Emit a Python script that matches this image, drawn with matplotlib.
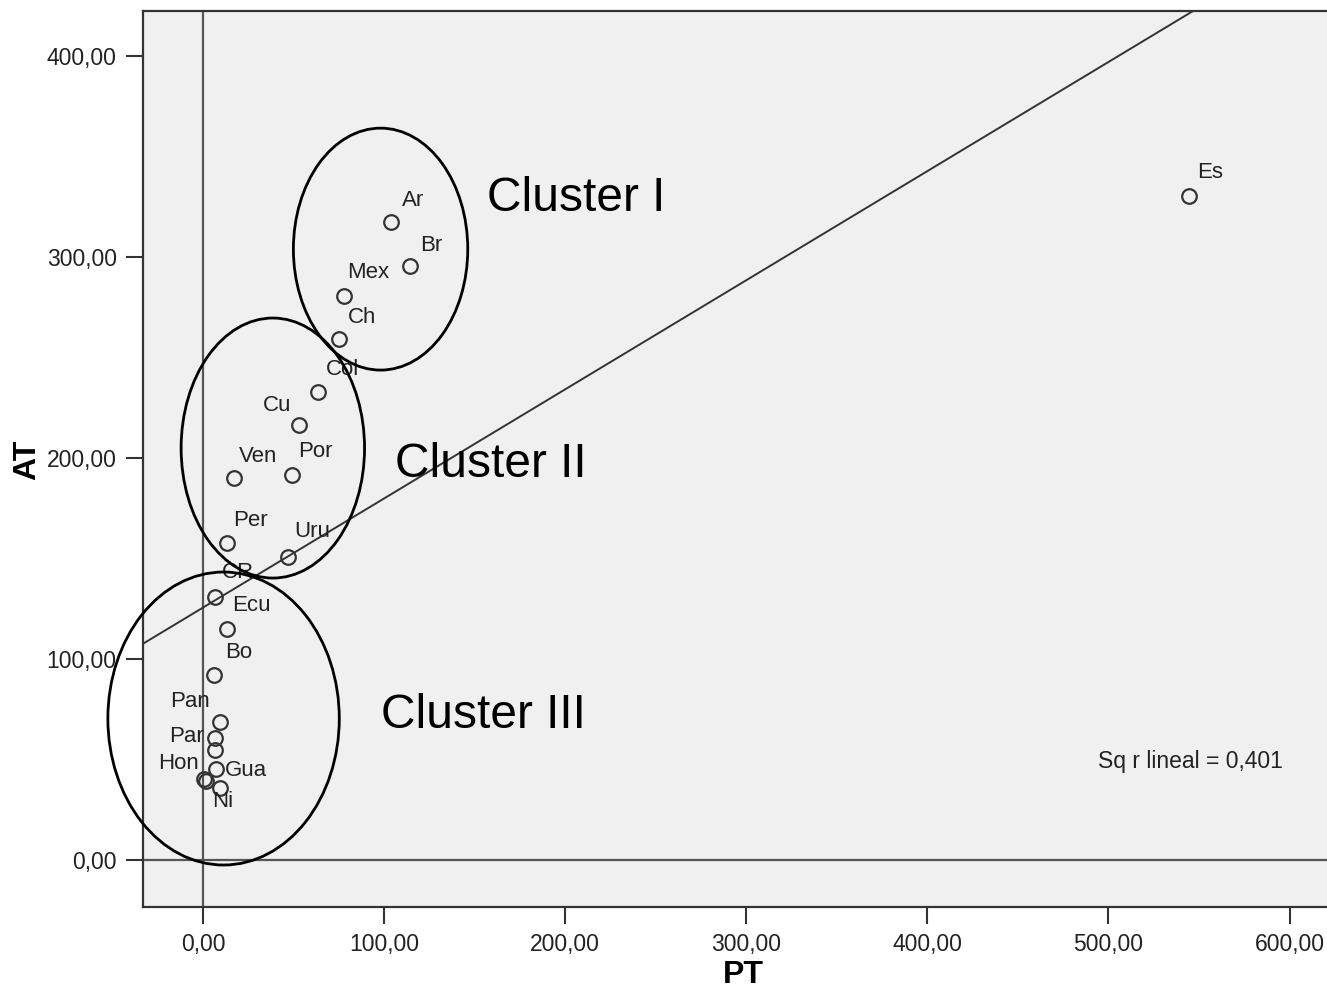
import numpy as np
import matplotlib
matplotlib.use("Agg")
import matplotlib.pyplot as plt
from matplotlib.patches import Ellipse

plt.rcParams['font.family'] = ['Liberation Sans', 'DejaVu Sans']

# ---- data ----
countries = ["Ar", "Br", "Mex", "Ch", "Col", "Cu", "Por", "Ven", "Per", "Uru",
             "CR", "Ecu", "Bo", "Pan", "Par", "", "Gua", "Hon", "", "Ni", "Es"]
pt = [104.0, 114.0, 78.0, 75.3, 63.6, 53.1, 49.3, 17.2, 13.3, 47.0,
      6.6, 13.3, 6.1, 9.4, 6.6, 6.6, 7.2, 1.7, 0.6, 9.4, 544.5]
at = [317.4, 295.5, 280.6, 259.2, 232.8, 216.4, 191.5, 190.0, 157.7, 150.7,
      130.8, 114.9, 92.0, 68.7, 60.7, 54.7, 45.3, 39.3, 40.3, 35.8, 330.3]
xticks = [0, 100, 200, 300, 400, 500, 600]
yticks = [0, 100, 200, 300, 400]
r2_text = "Sq r lineal = 0,401"

# label offsets (pixels; x right, y up)
label_offsets = {
    "Ar": (22, 22), "Br": (22, 21), "Mex": (24, 24), "Ch": (23, 22),
    "Col": (24, 23), "Cu": (-22, 20), "Por": (23, 24), "Ven": (24, 22),
    "Per": (23, 23), "Uru": (24, 26), "CR": (23, 25), "Ecu": (24, 24),
    "Bo": (25, 23), "Pan": (-30, 20), "Par": (-29, 2), "Gua": (30, -2),
    "Hon": (-28, 18), "Ni": (3, -13), "Es": (21, 24),
}

W, H = 1327, 990
fig = plt.figure(figsize=(W / 100, H / 100), dpi=100)
ax = fig.add_axes([143 / W, (H - 907) / H, (W - 143) / W + 0.01, (907 - 11) / H])
ax.set_facecolor('#f0f0f0')
ax.set_xlim(-33.2, 628)
ax.set_ylim(-23.4, 422.5)

# reference lines
ax.axvline(0, color='#555555', lw=1.6, zorder=1)
ax.axhline(0, color='#555555', lw=1.6, zorder=1)

# regression line
x = np.array(pt)
y = np.array(at)
slope, intercept = np.polyfit(x, y, 1)
xs = np.array([-40, 700])
ax.plot(xs, intercept + slope * xs, color='#333333', lw=1.4, zorder=2)

# points
ax.plot(x, y, 'o', ms=10.5, mfc='none', mec='#333333', mew=1.6, zorder=3)

for name, xi, yi in zip(countries, pt, at):
    if not name:
        continue
    dx, dy = label_offsets[name]
    ax.annotate(name, (xi, yi), xytext=(dx, dy), textcoords='offset pixels',
                ha='center', va='center', fontsize=16, color='#222222', zorder=4)

# cluster ellipses
ellipses = [((98, 304), 96.3, 120.4), ((38.5, 205), 101.3, 129.4), ((11.3, 70.4), 127.8, 145.8)]
for (cx, cy), w, h in ellipses:
    ax.add_patch(Ellipse((cx, cy), w, h, fill=False, ec='black', lw=2.0, zorder=5,
                         clip_on=False))

ax.text(157, 329, "Cluster I", fontsize=34.5, ha='left', va='center', color='black', zorder=6)
ax.text(106, 197, "Cluster II", fontsize=34.5, ha='left', va='center', color='black', zorder=6)
ax.text(98, 72, "Cluster III", fontsize=34.5, ha='left', va='center', color='black', zorder=6)

ax.text(545, 49, r2_text, fontsize=16.5, ha='center', va='center', color='#222222')

ax.set_xticks(xticks)
ax.set_xticklabels([f"{v:.2f}".replace('.', ',') for v in xticks])
ax.set_yticks(yticks)
ax.set_yticklabels([f"{v:.2f}".replace('.', ',') for v in yticks])
ax.tick_params(direction='out', length=12, width=1.5, labelsize=16.5, colors='#333333',
               labelcolor='#222222', pad=7)

for s in ['left', 'bottom', 'top']:
    ax.spines[s].set_color('#333333')
    ax.spines[s].set_linewidth(1.6)
ax.spines['right'].set_visible(False)

fig.text(743 / W, 1 - 975 / H, "PT", fontsize=23, fontweight='bold', ha='center', va='center')
fig.text(27 / W, 1 - 460 / H, "AT", fontsize=23, fontweight='bold', ha='center', va='center',
         rotation=90)

fig.savefig("out.png", dpi=100, facecolor='white')
